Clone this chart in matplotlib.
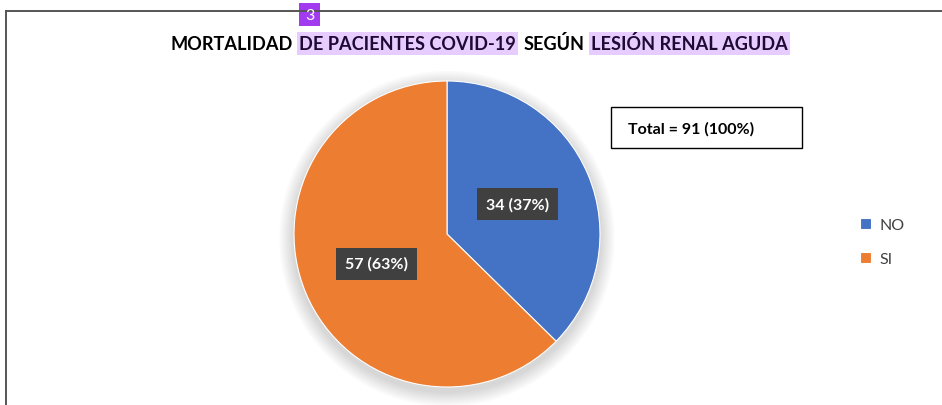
import matplotlib
matplotlib.use("Agg")
import matplotlib.pyplot as plt
from matplotlib.patches import Circle, Rectangle
from matplotlib.lines import Line2D

categories = ["NO", "SI"]
values = [34, 57]
colors = ["#4472C4", "#ED7D31"]
title_parts = [("MORTALIDAD", False), ("DE PACIENTES COVID-19", True), ("SEGÚN", False),
               ("LESIÓN RENAL AGUDA", True)]
total_label = "Total = 91 (100%)"
badge = "3"

W, H = 942, 406
plt.rcParams['font.family'] = ['Lato', 'DejaVu Sans']
fig = plt.figure(figsize=(W / 100, H / 100), dpi=100)
fig.patch.set_facecolor("white")

def fx(px):
    return px / W

def fy(py):
    return 1 - py / H

# frame lines
fig.add_artist(Line2D([fx(6), fx(942)], [fy(12), fy(12)], color="#555555", lw=1.4))
fig.add_artist(Line2D([fx(6), fx(6)], [fy(12), fy(406)], color="#555555", lw=1.4))

# pie
cx, cy, r = 447, 235, 153
ax = fig.add_axes([fx(cx - r), fy(cy + r), 2 * r / W, 2 * r / H])
ax.axis("off")

total = sum(values)
def fmt(p):
    n = int(round(p * total / 100))
    return f"{n} ({p:.0f}%)"

wedges, texts, autotexts = ax.pie(values, colors=colors, startangle=90, counterclock=False,
                                  autopct=fmt, pctdistance=0.5, radius=1.0,
                                  wedgeprops=dict(linewidth=0.8, edgecolor="white", zorder=2))
ax.set_xlim(-1, 1)
ax.set_ylim(-1, 1)
ax.set_aspect("equal")
# soft shadow
for i in range(8):
    rr = 1.0 + 0.012 * (i + 1)
    ax.add_patch(Circle((0.0, -0.03), rr, color="#000000", alpha=0.018, lw=0, zorder=0,
                        clip_on=False))
for t in autotexts:
    t.set_color("white")
    t.set_fontweight("bold")
    t.set_fontsize(11.5)
    t.set_zorder(5)
    t.set_bbox(dict(boxstyle="square,pad=0.55", facecolor="#404040", edgecolor="none"))

# title
renderer = fig.canvas.get_renderer()
fs = 13.1
x = 170
ty = 44
gap = 5
hl = "#E6CCFF"
for txt, highlight in title_parts:
    if highlight:
        x += 2
    t = fig.text(fx(x), fy(ty), txt, fontsize=fs, fontweight="bold",
                 color="#1F0A33" if highlight else "#000000", va="center", ha="left", zorder=3)
    bb = t.get_window_extent(renderer=renderer)
    if highlight:
        fig.add_artist(Rectangle((fx(x - 2), fy(56)), (bb.width + 4) / W, 23 / H,
                                 facecolor=hl, edgecolor="none", zorder=1))
        x += 2
    x += bb.width + gap
# badge
fig.add_artist(Rectangle((fx(299), fy(27)), 21 / W, 23 / H, facecolor="#A23BF0",
                         edgecolor="none"))
fig.text(fx(309.5), fy(15.5), badge, color="white", fontsize=11.5, ha="center", va="center")

# total box
fig.add_artist(Rectangle((fx(611), fy(149)), 191 / W, 41 / H, facecolor="white",
                         edgecolor="#000000", lw=1.0))
fig.text(fx(628), fy(129), total_label, fontsize=11.5, fontweight="bold", ha="left", va="center")

# legend
fig.legend(wedges, categories, loc="center left", bbox_to_anchor=(fx(852), fy(243)),
           frameon=False, fontsize=11.5, handlelength=0.7, handleheight=0.7,
           handletextpad=0.5, labelspacing=1.2, borderpad=0, labelcolor="#404040")

fig.savefig("out.png", dpi=100)
